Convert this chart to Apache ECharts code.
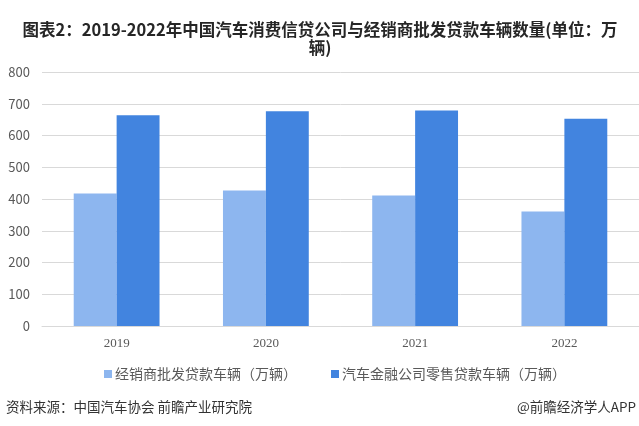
<!DOCTYPE html>
<html>
<head>
<meta charset="utf-8">
<script src="https://cdn.jsdelivr.net/npm/echarts@6/dist/echarts.min.js"></script>
<style>
html,body{margin:0;padding:0;background:#fff;}
#main{width:639px;height:426px;}
</style>
</head>
<body>
<div id="main"></div>
<script>
var categories = ['2019', '2020', '2021', '2022'];
var dealerWholesale = [417, 427, 411, 361];
var financeRetail = [664, 676, 679, 653];
var seriesNames = ['经销商批发贷款车辆（万辆）', '汽车金融公司零售贷款车辆（万辆）'];
var yTicks = [0, 100, 200, 300, 400, 500, 600, 700, 800];
var titleText = '图表2：2019-2022年中国汽车消费信贷公司与经销商批发贷款车辆数量(单位：万\n辆)';

var chart = echarts.init(document.getElementById('main'), null, {renderer: 'canvas'});
var font = '"Noto Sans CJK SC", "Microsoft YaHei", sans-serif';
chart.setOption({
  backgroundColor: '#fff',
  animation: false,
  legend: {
    data: seriesNames,
    bottom: 40,
    left: 99,
    itemWidth: 8,
    itemHeight: 8,
    itemGap: 34,
    icon: 'rect',
    textStyle: {fontFamily: font, fontSize: 14, color: '#595959', padding: [0, 0, 0, -2]}
  },
  grid: {left: 42, top: 72, width: 599, bottom: 100},
  xAxis: {
    type: 'category',
    data: categories,
    axisLine: {lineStyle: {color: '#D9D9D9'}},
    axisTick: {show: false},
    axisLabel: {fontFamily: 'Liberation Serif, serif', fontSize: 13, color: '#595959', margin: 11}
  },
  yAxis: {
    type: 'value',
    min: yTicks[0],
    max: yTicks[yTicks.length - 1],
    interval: 100,
    axisLine: {show: false},
    axisTick: {show: false},
    axisLabel: {fontFamily: font, fontSize: 13, color: '#595959', margin: 12},
    splitLine: {lineStyle: {color: '#D9D9D9'}}
  },
  series: [
    {name: seriesNames[0], type: 'bar', data: dealerWholesale, barGap: '0%', barCategoryGap: '42.5%',
     itemStyle: {color: '#8DB6EF'}},
    {name: seriesNames[1], type: 'bar', data: financeRetail, barGap: '0%', barCategoryGap: '42.5%',
     itemStyle: {color: '#4284DF'}}
  ],
  graphic: [
    {type: 'text', x: 320, y: 21, style: {text: titleText, textAlign: 'center', textVerticalAlign: 'top',
      font: 'bold 16.5px "Noto Sans CJK SC"', lineHeight: 18, fill: '#262626'}},
    {type: 'text', left: 6, top: 400, style: {text: '资料来源：中国汽车协会 前瞻产业研究院', font: '13.5px "Noto Sans CJK SC"', fill: '#333'}},
    {type: 'text', right: 3, top: 400, style: {text: '@前瞻经济学人APP', font: '13.5px "Noto Sans CJK SC"', fill: '#333'}}
  ]
});
</script>
</body>
</html>
